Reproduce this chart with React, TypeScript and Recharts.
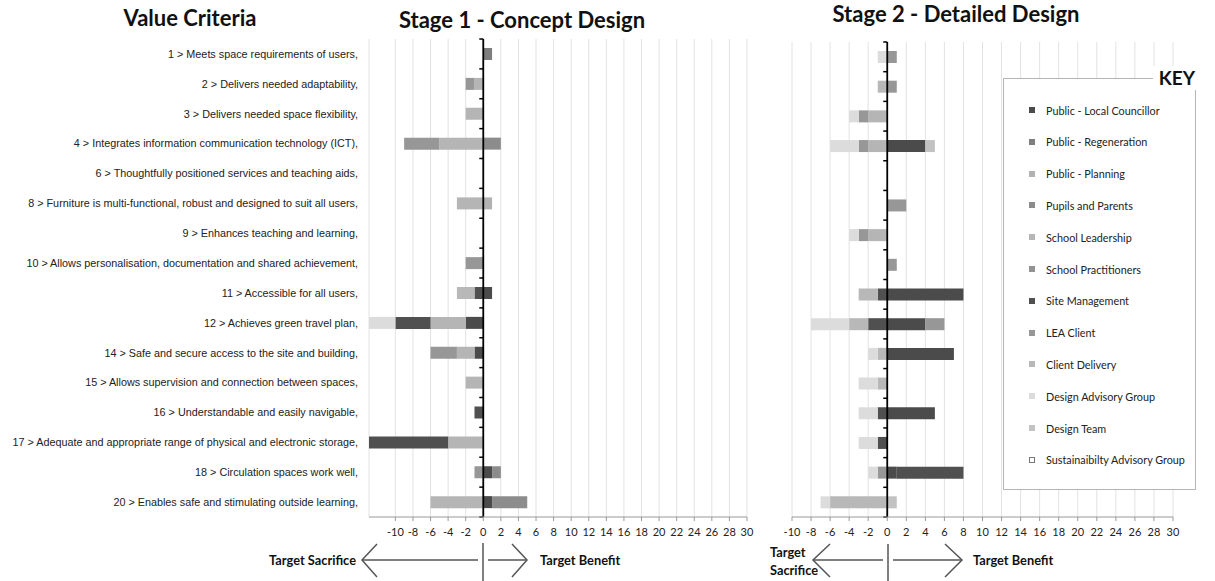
import { BarChart, Bar, XAxis, YAxis, CartesianGrid, ReferenceLine, Legend } from 'recharts';

// criteria, top to bottom
const criteria = [
  '1 > Meets space requirements of users,',
  '2 > Delivers needed adaptability,',
  '3 > Delivers needed space flexibility,',
  '4 > Integrates information communication technology (ICT),',
  '6 > Thoughtfully positioned services and teaching aids,',
  '8 > Furniture is multi-functional, robust and designed to suit all users,',
  '9 > Enhances teaching and learning,',
  '10 > Allows personalisation, documentation and shared achievement,',
  '11 > Accessible for all users,',
  '12 > Achieves green travel plan,',
  '14 > Safe and secure access to the site and building,',
  '15 > Allows supervision and connection between spaces,',
  '16 > Understandable and easily navigable,',
  '17 > Adequate and appropriate range of physical and electronic storage,',
  '18 > Circulation spaces work well,',
  '20 > Enables safe and stimulating outside learning,',
];

const stakeholders = [
  'Public - Local Councillor',
  'Public - Regeneration',
  'Public - Planning',
  'Pupils and Parents',
  'School Leadership',
  'School Practitioners',
  'Site Management',
  'LEA Client',
  'Client Delivery',
  'Design Advisory Group',
  'Design Team',
  'Sustainaibilty Advisory Group',
];

const stakeholderColors = [
  '#4b4b4b', '#7e7e7e', '#b2b2b2', '#8c8c8c', '#b5b5b5', '#939393',
  '#505050', '#979797', '#b8b8b8', '#dcdcdc', '#c2c2c2', '#ffffff',
];

const xTicks = [-10, -8, -6, -4, -2, 0, 2, 4, 6, 8, 10, 12, 14, 16, 18, 20, 22, 24, 26, 28, 30];

// Stage 1 - Concept Design
const c1LocalCouncillor = [0, 0, 0, 0, 0, 0, 0, 0, 1, -2, -1, 0, 0, 0, 1, 1];
const c1Regeneration = [1, 0, 0, 0, 0, 0, 0, 0, 0, 0, 0, 0, 0, 0, 0, 0];
const c1Planning = [0, 0, 0, 0, 0, 1, 0, 0, 0, 0, 0, 0, 0, 0, 0, 0];
const c1Pupils = [0, 0, 0, 2, 0, 0, 0, 0, 0, 0, 0, 0, 0, 0, 1, 4];
const c1Leadership = [0, -1, -2, -5, 0, -3, 0, 0, 0, -4, -2, -2, 0, -4, 0, -6];
const c1Practitioners = [0, 0, 0, 0, 0, 0, 0, 0, 0, 0, 0, 0, 0, 0, 0, 0];
const c1SiteMgmt = [0, 0, 0, 0, 0, 0, 0, 0, -1, -4, 0, 0, -1, -9, 0, 0];
const c1LeaClient = [0, -1, 0, -4, 0, 0, 0, -2, 0, 0, -3, 0, 0, 0, -1, 0];
const c1ClientDelivery = [0, 0, 0, 0, 0, 0, 0, 0, -2, 0, 0, 0, 0, 0, 0, 0];
const c1DesignAdvisory = [0, 0, 0, 0, 0, 0, 0, 0, 0, -3, 0, 0, 0, 0, 0, 0];
const c1DesignTeam = [0, 0, 0, 0, 0, 0, 0, 0, 0, 0, 0, 0, 0, 0, 0, 0];
const c1Sustainability = [0, 0, 0, 0, 0, 0, 0, 0, 0, 0, 0, 0, 0, 0, 0, 0];

// Stage 2 - Detailed Design
const d2LocalCouncillor = [0, 0, 0, 4, 0, 0, 0, 0, 8, 4, 7, 0, 5, 0, 1, 0];
const d2Regeneration = [0, 0, 0, 0, 0, 0, 0, 0, 0, 0, 0, 0, 0, 0, 0, 0];
const d2Planning = [0, 0, 0, 0, 0, 0, 0, 0, 0, 0, 0, 0, 0, 0, 0, 0];
const d2Pupils = [0, 0, 0, 0, 0, 0, 0, 0, 0, 0, 0, 0, 0, 0, 0, 0];
const d2Leadership = [0, 0, -2, -2, 0, 0, -2, 0, 0, 0, 0, 0, 0, 0, 0, 0];
const d2Practitioners = [0, 0, 0, 0, 0, 0, 0, 0, 0, 0, 0, 0, 0, 0, 0, 0];
const d2SiteMgmt = [0, 0, 0, 0, 0, 0, 0, 0, -1, -2, 0, 0, -1, -1, 7, 0];
const d2LeaClient = [1, 1, -1, -1, 0, 2, -1, 1, 0, 2, 0, 0, 0, 0, -1, 0];
const d2ClientDelivery = [0, -1, 0, 0, 0, 0, 0, 0, -2, -2, -1, -1, 0, 0, 0, -6];
const d2DesignAdvisory = [-1, 0, -1, -3, 0, 0, -1, 0, 0, -4, -1, -2, -2, -2, -1, -1];
const d2DesignTeam = [0, 0, 0, 1, 0, 0, 0, 0, 0, 0, 0, 0, 0, 0, 0, 1];
const d2Sustainability = [0, 0, 0, 0, 0, 0, 0, 0, 0, 0, 0, 0, 0, 0, 0, 0];

const stage1 = [c1LocalCouncillor, c1Regeneration, c1Planning, c1Pupils, c1Leadership, c1Practitioners,
  c1SiteMgmt, c1LeaClient, c1ClientDelivery, c1DesignAdvisory, c1DesignTeam, c1Sustainability];
const stage2 = [d2LocalCouncillor, d2Regeneration, d2Planning, d2Pupils, d2Leadership, d2Practitioners,
  d2SiteMgmt, d2LeaClient, d2ClientDelivery, d2DesignAdvisory, d2DesignTeam, d2Sustainability];

const toRows = (series: number[][]) =>
  criteria.map((c, i) => {
    const row: any = { criterion: c };
    series.forEach((s, k) => { row['s' + k] = s[i]; });
    return row;
  });

const data1 = toRows(stage1);
const data2 = toRows(stage2);

const ZeroAxis = (props: any) => {
  const { x1, y1, x2, y2 } = props;
  const top = Math.min(y1, y2);
  const bottom = Math.max(y1, y2);
  const step = (bottom - top) / criteria.length;
  const marks = [];
  for (let i = 0; i <= criteria.length; i++) {
    const y = top + i * step;
    marks.push(<line key={i} x1={x1 - 4} y1={y} x2={x1} y2={y} stroke="#000" strokeWidth={1.5} />);
  }
  return (
    <g>
      <line x1={x1} y1={top} x2={x2} y2={bottom} stroke="#000" strokeWidth={1.8} />
      {marks}
    </g>
  );
};

// single-line category label (no wrapping)
const CriterionTick = (props: any) => {
  const { x, y, payload } = props;
  return (
    <text x={x} y={y} dy="0.355em" textAnchor="end" fontSize={10.8} fontFamily="Liberation Sans" fill="#222">
      {payload.value}
    </text>
  );
};

const KeyBox = () => (
  <div style={{ position: 'relative', width: 193, height: 412, border: '1px solid #b5b5b5', background: '#fff', boxSizing: 'border-box', fontFamily: 'Lato' }}>
    <div style={{ position: 'absolute', right: -2, top: -13, background: '#fff', padding: '0 2px 0 6px', fontWeight: 700, fontSize: 19, lineHeight: '24px', color: '#111' }}>KEY</div>
    {stakeholders.map((name, i) => (
      <div key={name} style={{ position: 'absolute', left: 25, top: 24 + i * 31.8, height: 14, display: 'flex', alignItems: 'center', fontSize: 10.8, color: '#222', whiteSpace: 'nowrap' }}>
        <span style={{ display: 'inline-block', width: 6, height: 6, marginRight: 11, background: stakeholderColors[i], border: i === 11 ? '1px solid #777' : 'none', boxSizing: 'border-box' }} />
        {name}
      </div>
    ))}
  </div>
);

const axisTick = { fontSize: 11, fill: '#222', fontFamily: 'Lato' };

const renderBars = () =>
  stakeholders.map((name, k) => (
    <Bar key={name} dataKey={'s' + k} name={name} stackId="a" fill={stakeholderColors[k]} barSize={12} isAnimationActive={false} />
  ));

export default function App() {
  return (
    <div style={{ position: 'relative', width: 1215, height: 581, background: '#fff', overflow: 'hidden' }}>
      <style>{'body{margin:0}'}</style>
      <div style={{ position: 'absolute', left: 0, top: 0 }}>
        <BarChart width={760} height={581} data={data1} layout="vertical" stackOffset="sign"
          margin={{ top: 39, right: 13, bottom: 40, left: 0 }}>
          <CartesianGrid horizontal={false} stroke="#e2e2e2" />
          <XAxis type="number" domain={[-13, 30]} ticks={xTicks} interval={0} height={24}
            tick={axisTick} tickSize={4} tickMargin={7} stroke="#999" />
          <YAxis type="category" dataKey="criterion" width={369} interval={0} axisLine={false} tickLine={false}
            tickSize={0} tickMargin={11} tick={CriterionTick} />
          {renderBars()}
          <ReferenceLine x={0} shape={ZeroAxis} />
        </BarChart>
      </div>
      <div style={{ position: 'absolute', left: 772, top: 0 }}>
        <BarChart width={443} height={581} data={data2} layout="vertical" stackOffset="sign"
          margin={{ top: 42, right: 42, bottom: 40, left: 20 }}>
          <CartesianGrid horizontal={false} stroke="#e2e2e2" />
          <XAxis type="number" domain={[-10, 30]} ticks={xTicks} interval={0} height={24}
            tick={axisTick} tickSize={4} tickMargin={7} stroke="#999" />
          <YAxis type="category" dataKey="criterion" hide />
          {renderBars()}
          <ReferenceLine x={0} shape={ZeroAxis} />
          <Legend layout="vertical" align="center" verticalAlign="middle" content={KeyBox}
            wrapperStyle={{ left: 231, top: 78, width: 193, height: 412 }} />
        </BarChart>
      </div>
      <svg width={1215} height={581} style={{ position: 'absolute', left: 0, top: 0, pointerEvents: 'none' }}
        fontFamily="Lato" fill="#111">
        <text x={190} y={26} textAnchor="middle" fontSize={22} fontWeight={700}>Value Criteria</text>
        <text x={522} y={28} textAnchor="middle" fontSize={22} fontWeight={700}>Stage 1 - Concept Design</text>
        <text x={956} y={22} textAnchor="middle" fontSize={22} fontWeight={700}>Stage 2 - Detailed Design</text>
        <g stroke="#555" strokeWidth={1.5} fill="none">
          <polyline points="377,544 362,560 377,577" />
          <line x1={362} y1={560} x2={478} y2={560} />
          <line x1={483} y1={543} x2={483} y2={581} />
          <line x1={488} y1={560} x2={527} y2={560} />
          <polyline points="512,544 527,560 512,577" />
          <polyline points="830,544 813,560 830,577" />
          <line x1={813} y1={560} x2={883} y2={560} />
          <line x1={888} y1={544} x2={888} y2={581} />
          <line x1={893} y1={560} x2={962} y2={560} />
          <polyline points="945,544 962,560 945,577" />
        </g>
        <g fontSize={12.8} fontWeight={700}>
          <text x={356} y={565} textAnchor="end">Target Sacrifice</text>
          <text x={540} y={565}>Target Benefit</text>
          <text x={770} y={557}>Target</text>
          <text x={770} y={575}>Sacrifice</text>
          <text x={973} y={565}>Target Benefit</text>
        </g>
      </svg>
    </div>
  );
}
